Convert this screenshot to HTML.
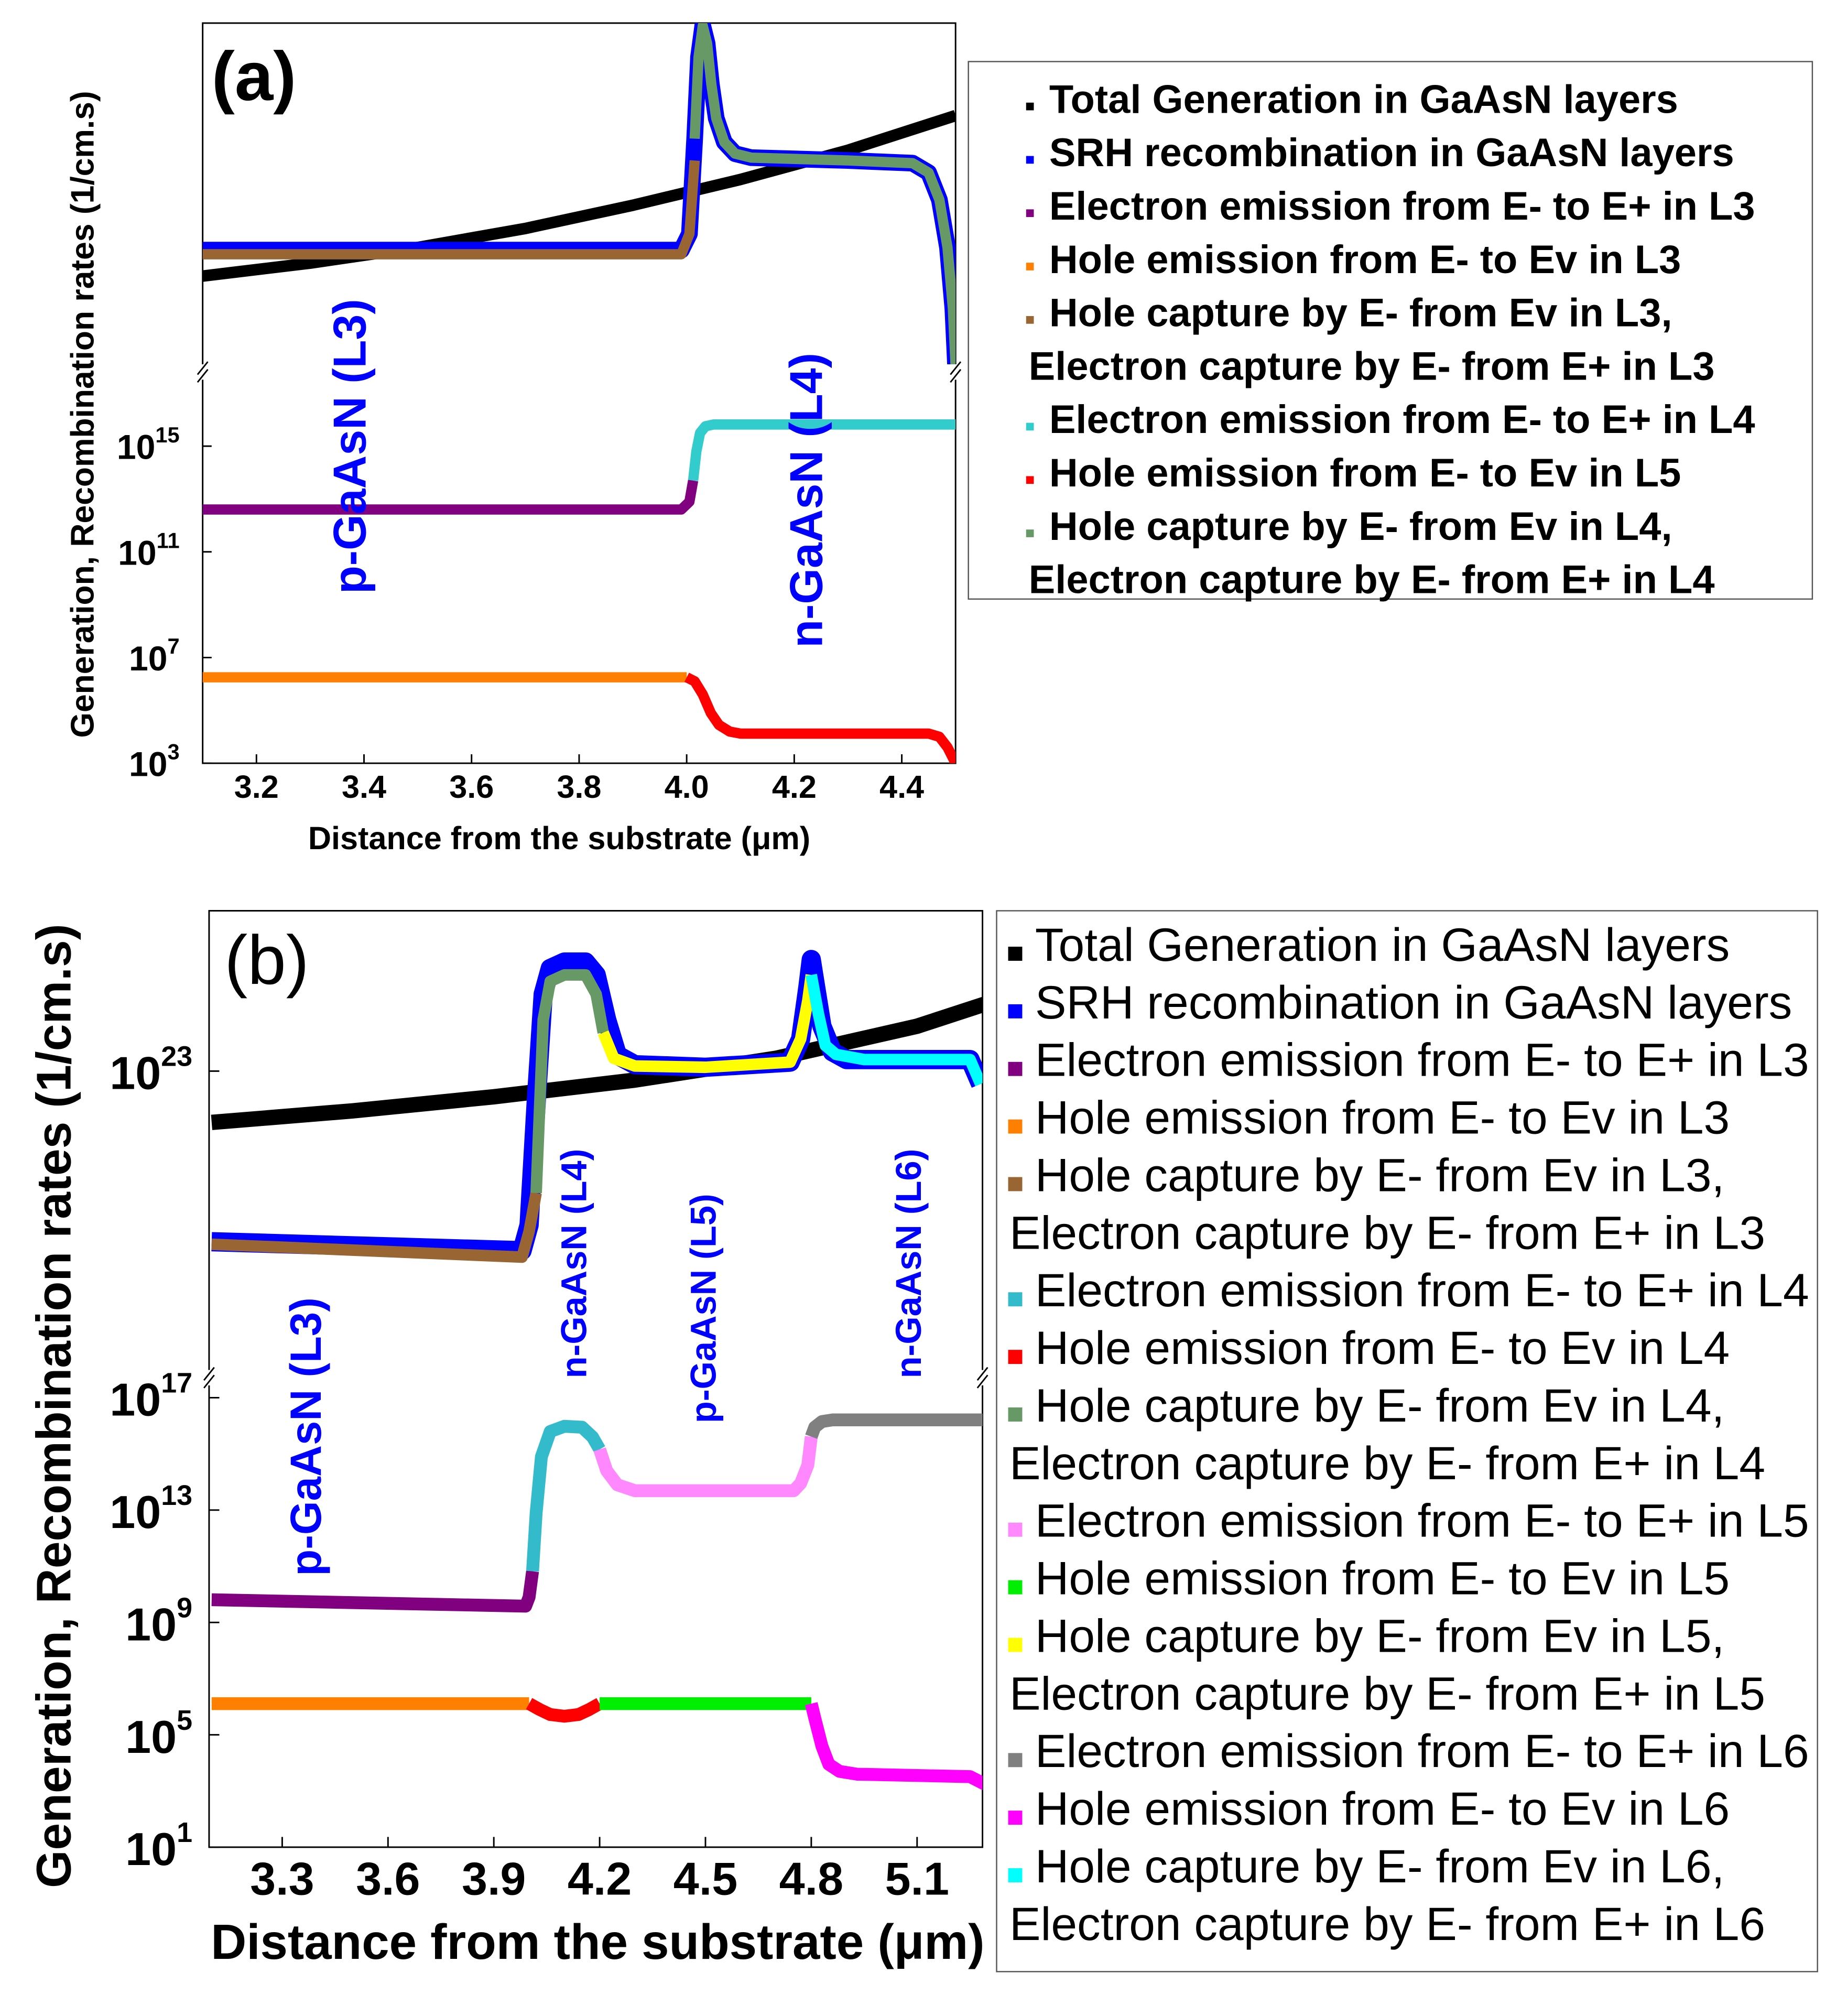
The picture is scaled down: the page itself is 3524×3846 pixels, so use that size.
<!DOCTYPE html>
<html><head><meta charset="utf-8"><style>
html,body{margin:0;padding:0;background:#fff;}
svg{display:block;}
text{font-family:"Liberation Sans",Arial,sans-serif;}
</style></head><body>
<svg id="fig" xmlns="http://www.w3.org/2000/svg" width="3524" height="3846" viewBox="0 0 1440 1571.6">
<rect width="1440" height="1572" fill="#fff"/>
<g id="pa"></g>
<g id="pb"></g>
</svg>
<script>
// ---------- Panel (a) data ----------
const aXTicks = [3.2, 3.4, 3.6, 3.8, 4.0, 4.2, 4.4];
const aYTicks = [3, 7, 11, 15];
const aBlackX = [3.1,3.3,3.5,3.7,3.9,4.1,4.3,4.5];
const aBlackU = [20.28,20.47,20.70,20.98,21.32,21.70,22.13,22.64];
const aBlueX = [3.1,3.99,4.005,4.015,4.022,4.03,4.038,4.046,4.055,4.07,4.09,4.12,4.3,4.42,4.45,4.47,4.485,4.495,4.5];
const aBlueU = [20.66,20.66,20.9,22.3,23.5,23.96,23.7,23.1,22.6,22.25,22.08,22.02,21.98,21.94,21.8,21.4,20.7,19.8,18.96];
const aBrownX = [3.1,3.99,4.005,4.015];
const aBrownU = [20.60,20.60,20.9,21.98];
const aGreenX = [4.015,4.022,4.03,4.038,4.046,4.055,4.07,4.09,4.12,4.3,4.42,4.45,4.47,4.485,4.495,4.5];
const aGreenU = [22.3,23.5,23.96,23.7,23.1,22.6,22.25,22.08,22.02,21.98,21.94,21.8,21.4,20.7,19.8,18.96];
const aPurpleX = [3.1,3.99,4.005,4.012];
const aPurpleL = [12.6,12.6,12.9,13.7];
const aCyanX = [4.012,4.018,4.025,4.035,4.05,4.5];
const aCyanL = [13.7,14.8,15.5,15.75,15.82,15.82];
const aOrangeX = [3.1,4.0];
const aOrangeL = [6.25,6.25];
const aRedX = [4.0,4.015,4.03,4.045,4.06,4.08,4.1,4.45,4.47,4.485,4.5];
const aRedL = [6.25,6.1,5.6,4.9,4.45,4.2,4.12,4.12,4.0,3.6,3.0];

// ---------- Panel (b) data ----------
const bXTicks = [3.3,3.6,3.9,4.2,4.5,4.8,5.1];
const bYTicksLow = [1,5,9,13,17];
const bBlackX = [3.1,3.5,3.9,4.3,4.7,5.1,5.3];
const bBlackU = [22.2,22.38,22.6,22.86,23.2,23.7,24.06];
const bBlueX = [3.1,3.98,4.0,4.02,4.04,4.06,4.1,4.16,4.19,4.22,4.25,4.3,4.5,4.74,4.77,4.79,4.8,4.81,4.83,4.86,4.9,5.25,5.28];
const bBlueU = [20.34,20.2,20.6,22.5,24.2,24.6,24.7,24.7,24.5,23.8,23.25,23.1,23.06,23.14,23.5,24.3,24.74,24.4,23.7,23.3,23.18,23.18,22.8];
const bBrownX = [3.1,3.98,4.0,4.02];
const bBrownU = [20.3,20.1,20.5,21.1];
const bGreenX = [4.02,4.04,4.06,4.1,4.16,4.19,4.21];
const bGreenU = [21.1,23.8,24.4,24.5,24.5,24.2,23.6];
const bYellowX = [4.21,4.24,4.3,4.5,4.74,4.77,4.79,4.8];
const bYellowU = [23.6,23.2,23.08,23.06,23.14,23.5,24.1,24.5];
const bAquaX = [4.8,4.82,4.84,4.87,4.95,5.25,5.28];
const bAquaU = [24.5,23.9,23.4,23.26,23.18,23.18,22.8];
const bPurpleX = [3.1,3.99,4.0,4.01];
const bPurpleL = [9.81,9.58,9.9,10.82];
const bCyanX = [4.01,4.02,4.035,4.06,4.1,4.15,4.18,4.2];
const bCyanL = [10.82,12.9,14.9,15.8,15.98,15.95,15.6,15.16];
const bPinkX = [4.2,4.22,4.25,4.3,4.75,4.77,4.79,4.8];
const bPinkL = [15.16,14.4,13.9,13.69,13.69,13.95,14.6,15.61];
const bGrayX = [4.8,4.81,4.83,4.86,5.3];
const bGrayL = [15.61,15.95,16.15,16.21,16.21];
const bOrangeX = [3.1,4.0];
const bOrangeL = [6.11,6.11];
const bRedX = [4.0,4.03,4.06,4.1,4.14,4.17,4.2];
const bRedL = [6.11,5.9,5.72,5.66,5.72,5.9,6.11];
const bLimeX = [4.2,4.8];
const bLimeL = [6.11,6.11];
const bMagX = [4.8,4.81,4.83,4.85,4.88,4.93,5.25,5.3];
const bMagL = [6.11,5.6,4.6,3.95,3.7,3.6,3.51,3.19];

const NS='http://www.w3.org/2000/svg';
function mk(parent,tag,attrs,txt){const e=document.createElementNS(NS,tag);for(const k in attrs)e.setAttribute(k,attrs[k]);if(txt!==undefined)e.textContent=txt;parent.appendChild(e);return e;}

const ax=x=>158+(x-3.1)/1.4*587;
const aU=u=>283-(u-19)*53;
const aL=l=>595-(l-3)*20.6;
const bx=x=>165+(x-3.1)/0.3*82.5;
const bU=u=>835-(u-23)*50;
const bL=l=>1440-(l-1)*21.9;

function series(g,xs,vs,fx,fy,color,w,name){
  const d=xs.map((x,i)=>(i?'L':'M')+fx(x).toFixed(1)+','+fy(vs[i]).toFixed(1)).join(' ');
  const p=mk(g,'path',{d:d,fill:'none',stroke:color,'stroke-width':w,'stroke-linejoin':'round','stroke-linecap':'butt'});
  
  
  return p;
}

// ---------------- Panel A ----------------
const A=document.getElementById('pa');
const aClip=mk(A,'clipPath',{id:'ca'});mk(aClip,'rect',{x:158,y:18,width:587,height:577});
const aF=mk(A,'rect',{x:158,y:18,width:587,height:577,fill:'none',stroke:'#000','stroke-width':1.2});

const aG=mk(A,'g',{'clip-path':'url(#ca)'});

series(aG,aBlackX,aBlackU,ax,aU,'#000',9,'series-total-generation');
series(aG,aBlueX,aBlueU,ax,aU,'#0000ff',13,'series-srh');
series(aG,aBrownX,aBrownU,ax,aU,'#996633',8,'series-hole-capture-l3');
series(aG,aGreenX,aGreenU,ax,aU,'#669966',8,'series-hole-capture-l4');
series(aG,aPurpleX,aPurpleL,ax,aL,'#800080',8,'series-electron-emission-l3');
series(aG,aCyanX,aCyanL,ax,aL,'#33cccc',8,'series-electron-emission-l4');
series(aG,aOrangeX,aOrangeL,ax,aL,'#ff8000',8,'series-hole-emission-l3');
series(aG,aRedX,aRedL,ax,aL,'#ff0000',8,'series-hole-emission-l5');
mk(A,'rect',{x:150,y:284,width:16,height:12,fill:'#fff'});
mk(A,'rect',{x:738,y:284,width:16,height:12,fill:'#fff'});
mk(A,'path',{d:'M154,292 L162,282 M154,298 L162,288 M741,292 L749,282 M741,298 L749,288',stroke:'#000','stroke-width':1.2,fill:'none'});
aXTicks.forEach(t=>{
  mk(A,'line',{x1:ax(t),x2:ax(t),y1:595,y2:588,stroke:'#000','stroke-width':1.2});
  const e=mk(A,'text',{x:ax(t),y:622,'text-anchor':'middle','font-size':25,'font-weight':'bold'},t.toFixed(1));
  
});
aYTicks.forEach(t=>{
  mk(A,'line',{x1:158,x2:165,y1:aL(t),y2:aL(t),stroke:'#000','stroke-width':1.2});
  const e=mk(A,'text',{x:140,y:aL(t)+10,'text-anchor':'end','font-size':27,'font-weight':'bold'});
  
  mk(e,'tspan',{},'10');mk(e,'tspan',{dy:-13,'font-size':17},String(t));
});
const t1=mk(A,'text',{x:165,y:78,'font-size':54,'font-weight':'bold'},'(a)');
const t2=mk(A,'text',{x:0,y:0,transform:'translate(285,348) rotate(-90)','text-anchor':'middle','font-size':36,'font-weight':'bold',fill:'#0000ff'},'p-GaAsN (L3)');
const t3=mk(A,'text',{x:0,y:0,transform:'translate(641,390) rotate(-90)','text-anchor':'middle','font-size':36,'font-weight':'bold',fill:'#0000ff'},'n-GaAsN (L4)');
const t4=mk(A,'text',{x:0,y:0,transform:'translate(73,323) rotate(-90)','text-anchor':'middle','font-size':25.5,'font-weight':'bold'},'Generation, Recombination rates (1/cm.s)');
const t5=mk(A,'text',{x:436,y:662,'text-anchor':'middle','font-size':25,'font-weight':'bold'},'Distance from the substrate (μm)');

const aLegText=['Total Generation in GaAsN layers','SRH recombination in GaAsN layers','Electron emission from E- to E+ in L3','Hole emission from E- to Ev in L3','Hole capture by E- from Ev in L3,',null,'Electron emission from E- to E+ in L4','Hole emission from E- to Ev in L5','Hole capture by E- from Ev in L4,',null];
const aLegCont=['','','','','Electron capture by E- from E+ in L3','','','','Electron capture by E- from E+ in L4'];
const aLegCol=['#000','#0000ff','#800080','#ff8000','#996633','','#33cccc','#ff0000','#669966',''];
const LA=mk(A,'g',{});
mk(LA,'rect',{x:755,y:48,width:658,height:419,fill:'#fff',stroke:'#555','stroke-width':1});
for(let i=0;i<10;i++){
  const y=88+i*41.6;
  if(aLegText[i]){
    mk(LA,'rect',{x:800,y:y-8,width:6,height:6,fill:aLegCol[i]});
    const e=mk(LA,'text',{x:818,y:y,'font-size':31,'font-weight':'bold'},aLegText[i]);
    
  } else {
    const e=mk(LA,'text',{x:802,y:y,'font-size':31,'font-weight':'bold'},aLegCont[i-1]);
    
  }
}

// ---------------- Panel B ----------------
const B=document.getElementById('pb');
const bClip=mk(B,'clipPath',{id:'cb'});mk(bClip,'rect',{x:163,y:710,width:603,height:730});
const bF=mk(B,'rect',{x:163,y:710,width:603,height:730,fill:'none',stroke:'#000','stroke-width':1.2});

const bG=mk(B,'g',{'clip-path':'url(#cb)'});

series(bG,bBlackX,bBlackU,bx,bU,'#000',12,'series-total-generation');
series(bG,bBlueX,bBlueU,bx,bU,'#0000ff',15,'series-srh');
series(bG,bBrownX,bBrownU,bx,bU,'#996633',9,'series-hole-capture-l3');
series(bG,bGreenX,bGreenU,bx,bU,'#669966',9,'series-hole-capture-l4');
series(bG,bYellowX,bYellowU,bx,bU,'#ffff00',9,'series-hole-capture-l5');
series(bG,bAquaX,bAquaU,bx,bU,'#00ffff',9,'series-hole-capture-l6');
series(bG,bPurpleX,bPurpleL,bx,bL,'#800080',10,'series-electron-emission-l3');
series(bG,bCyanX,bCyanL,bx,bL,'#33bbcc',10,'series-electron-emission-l4');
series(bG,bPinkX,bPinkL,bx,bL,'#ff88ff',10,'series-electron-emission-l5');
series(bG,bGrayX,bGrayL,bx,bL,'#808080',10,'series-electron-emission-l6');
series(bG,bOrangeX,bOrangeL,bx,bL,'#ff8000',10,'series-hole-emission-l3');
series(bG,bRedX,bRedL,bx,bL,'#ff0000',10,'series-hole-emission-l4');
series(bG,bLimeX,bLimeL,bx,bL,'#00ee00',10,'series-hole-emission-l5');
series(bG,bMagX,bMagL,bx,bL,'#ff00ff',10,'series-hole-emission-l6');
mk(B,'rect',{x:155,y:1068,width:16,height:12,fill:'#fff'});
mk(B,'rect',{x:758,y:1068,width:16,height:12,fill:'#fff'});
mk(B,'path',{d:'M159,1076 L167,1066 M159,1082 L167,1072 M762,1076 L770,1066 M762,1082 L770,1072',stroke:'#000','stroke-width':1.2,fill:'none'});
bXTicks.forEach(t=>{
  mk(B,'line',{x1:bx(t),x2:bx(t),y1:1440,y2:1432,stroke:'#000','stroke-width':1.2});
  const e=mk(B,'text',{x:bx(t),y:1477,'text-anchor':'middle','font-size':36,'font-weight':'bold'},t.toFixed(1));
  
});
bYTicksLow.forEach(t=>{
  mk(B,'line',{x1:163,x2:171,y1:bL(t),y2:bL(t),stroke:'#000','stroke-width':1.2});
  const e=mk(B,'text',{x:150,y:bL(t)+14,'text-anchor':'end','font-size':36,'font-weight':'bold'});
  
  mk(e,'tspan',{},'10');mk(e,'tspan',{dy:-18,'font-size':22},String(t));
});
{
  mk(B,'line',{x1:163,x2:171,y1:bU(23),y2:bU(23),stroke:'#000','stroke-width':1.2});
  const e=mk(B,'text',{x:150,y:bU(23)+14,'text-anchor':'end','font-size':36,'font-weight':'bold'});
  
  mk(e,'tspan',{},'10');mk(e,'tspan',{dy:-18,'font-size':22},'23');
}
const u1=mk(B,'text',{x:175,y:767,'font-size':54},'(b)');
[['p-GaAsN (L3)',250,1120,'layer-label-l3',34],['n-GaAsN (L4)',457,985,'layer-label-l4',28],['p-GaAsN (L5)',558,1020,'layer-label-l5',28],['n-GaAsN (L6)',718,985,'layer-label-l6',28]].forEach(a=>{
  const e=mk(B,'text',{x:0,y:0,transform:`translate(${a[1]},${a[2]}) rotate(-90)`,'text-anchor':'middle','font-size':a[4],'font-weight':'bold',fill:'#0000ff'},a[0]);
  
});
const u2=mk(B,'text',{x:0,y:0,transform:'translate(55,1096) rotate(-90)','text-anchor':'middle','font-size':38,'font-weight':'bold'},'Generation, Recombination rates (1/cm.s)');
const u3=mk(B,'text',{x:466,y:1527,'text-anchor':'middle','font-size':38.5,'font-weight':'bold'},'Distance from the substrate (μm)');

const bLegText=['Total Generation in GaAsN layers','SRH recombination in GaAsN layers','Electron emission from E- to E+ in L3','Hole emission from E- to Ev in L3','Hole capture by E- from Ev in L3,','Electron capture by E- from E+ in L3','Electron emission from E- to E+ in L4','Hole emission from E- to Ev in L4','Hole capture by E- from Ev in L4,','Electron capture by E- from E+ in L4','Electron emission from E- to E+ in L5','Hole emission from E- to Ev in L5','Hole capture by E- from Ev in L5,','Electron capture by E- from E+ in L5','Electron emission from E- to E+ in L6','Hole emission from E- to Ev in L6','Hole capture by E- from Ev in L6,','Electron capture by E- from E+ in L6'];
const bLegCol=['#000','#0000ff','#800080','#ff8000','#996633','','#33bbcc','#ff0000','#669966','','#ff88ff','#00ee00','#ffff00','','#808080','#ff00ff','#00ffff',''];
const LB=mk(B,'g',{});
mk(LB,'rect',{x:777,y:710,width:640,height:827,fill:'#fff',stroke:'#555','stroke-width':1});
for(let i=0;i<18;i++){
  const y=749+i*44.9;
  if(bLegCol[i]){
    mk(LB,'rect',{x:786,y:y-11,width:11,height:11,fill:bLegCol[i]});
    const e=mk(LB,'text',{x:807,y:y,'font-size':36.5},bLegText[i]);
    
  } else {
    const e=mk(LB,'text',{x:787,y:y,'font-size':36.5},bLegText[i]);
    
  }
}
</script>
</body></html>
